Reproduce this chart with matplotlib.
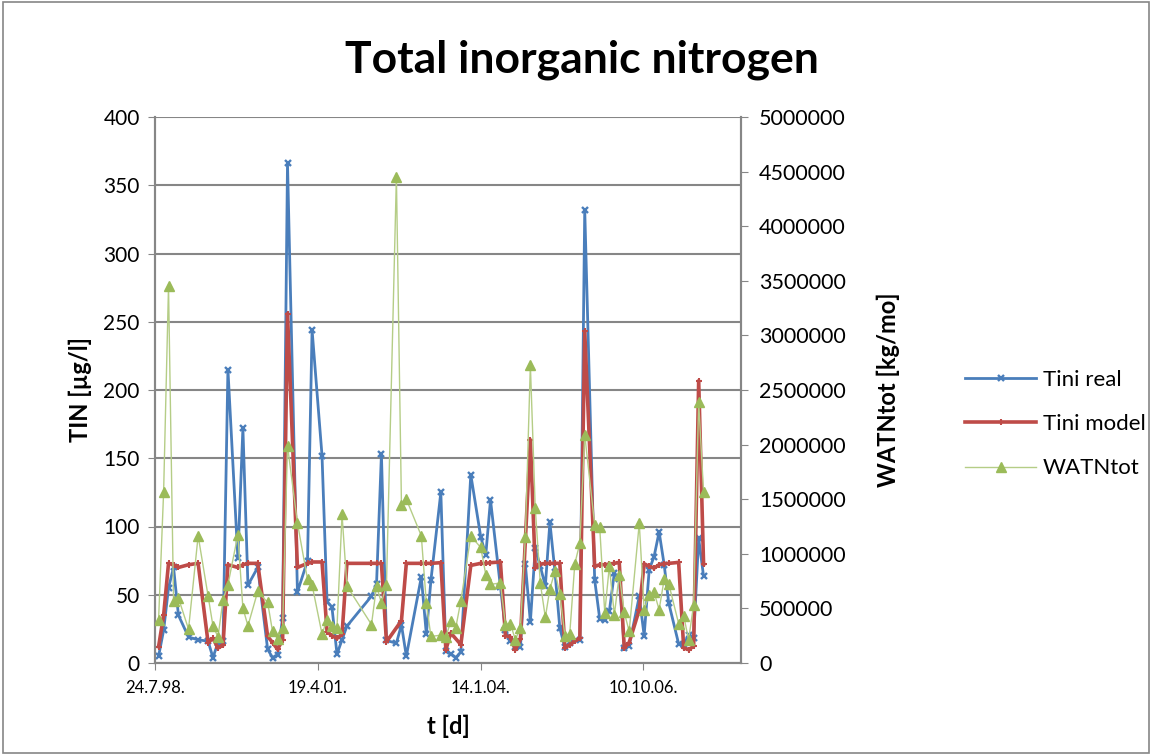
import numpy as np
import pandas as pd
import matplotlib
matplotlib.use("Agg")
import matplotlib.pyplot as plt
from matplotlib.lines import Line2D
from matplotlib.patches import Rectangle
from matplotlib.ticker import FuncFormatter

plt.rcParams['font.family'] = ['Lato', 'DejaVu Sans']

# monthly samples (mid-month), NaN = no value for that series
meses = [
    "1998-08", "1998-09", "1998-10", "1998-11", "1998-12", "1999-02", "1999-04",
    "1999-06", "1999-07", "1999-08", "1999-09", "1999-10", "1999-12", "2000-01",
    "2000-02", "2000-04", "2000-06", "2000-07", "2000-08", "2000-09", "2000-10",
    "2000-12", "2001-02", "2001-03", "2001-05", "2001-06", "2001-07", "2001-08",
    "2001-09", "2001-10", "2002-03", "2002-04", "2002-05", "2002-06", "2002-08",
    "2002-09", "2002-10", "2003-01", "2003-02", "2003-03", "2003-05", "2003-06",
    "2003-07", "2003-08", "2003-09", "2003-11", "2004-01", "2004-02", "2004-03",
    "2004-05", "2004-06", "2004-07", "2004-08", "2004-09", "2004-10", "2004-11",
    "2004-12", "2005-01", "2005-02", "2005-03", "2005-04", "2005-05", "2005-06",
    "2005-07", "2005-08", "2005-09", "2005-10", "2005-12", "2006-01", "2006-02",
    "2006-03", "2006-04", "2006-05", "2006-06", "2006-07", "2006-09", "2006-10",
    "2006-11", "2006-12", "2007-01", "2007-02", "2007-03", "2007-05", "2007-06",
    "2007-07", "2007-08", "2007-09", "2007-10",
]

tini_real = [
    5, 24, 55, 70, 35, 19, 17, 16, 4, 15, 16, 215, 77, 172, 57, 70, 10, 4, 6, 33,
    366, 52, 75, 244, 152, 45, 41, 6.5, 17, 27, 49, 58, 153, 16.5, 14.5, 28, 5,
    63, 21, 60.5, 125, 8.5, 6.5, 4, 8, 138, 92.5, 79, 119.5, 56, 24, 16, 12, 11.5,
    72.7, 30, 84, 70.7, 56.6, 103, 67, 25.6, 11.5, 15, np.nan, 17, 332, 61, 32.4,
    31.7, 37.8, 66, 61.5, 11, 12.7, 48.8, 20, 68.3, 78, 96, 72, 44, 14, 13.4,
    20.7, 18.3, 91.5, 63.5,
]

tini_model = [
    12, 35, 73, 72, 70, 72, 73, 15, 18, 11, 13, 72, 70, 72, 73, 73, 19.5, 15, 10,
    17, 256, 70, 73, 74, 74, 23, 20, 18, 21, 73, 73, 73, 73, 15.5, np.nan, 31, 73,
    73, 73, 73, 73.5, 9.7, 22, np.nan, 13.5, 71.5, 73, 73, 73.5, 74, 20, 19, 9.7,
    17.3, np.nan, 163.5, 69.5, 72.4, 73, 73, 73, 73, 11, 13.4, 15.9, 18.3, 243,
    70.7, 72, 72, 72.5, 73, 73.7, 11, 15, 39, 72.7, 70.7, 69.5, 72, 72.7, 73,
    73.7, 11, 9.8, 12.2, 206.8, 72.5,
]

watntot = [
    395000, 1570000, 3450000, 565000, 595000, 310000, 1165000, 615000, 340000,
    238000, 580000, 716000, 1174000, 503000, 341000, 655000, 555000, 290000,
    220000, 320000, 1990000, 1282000, 765000, 715000, 265000, 395000, 336000,
    325000, 1360000, 705000, 352000, 705000, 550000, 715000, 4455000, 1450000,
    1500000, 1165000, 550000, 243000, 255000, 235000, 385000, 325000, 570000,
    1163000, 1058000, 810000, 720000, 733000, 350000, 360000, 213000, 324000,
    1150000, 2730000, 1418000, 732000, 418000, 680000, 838000, 634000, 250000,
    268000, 909000, 1098000, 2090000, 1265000, 1244000, 457000, 884000, 442000,
    808000, 463000, 290000, 1280000, 488000, 625000, 649000, 488000, 768000,
    726000, 360000, 433000, 213000, 534000, 2388000, 1565000,
]

datas = pd.to_datetime([m + "-15" for m in meses])
real = np.array(tini_real, dtype=float)
model = np.array(tini_model, dtype=float)
watn = np.array(watntot, dtype=float)

azul = "#4A7EBB"
vermelho = "#BE4B48"
verde = "#9BBB59"
cinza = "#868686"

fig = plt.figure(figsize=(11.52, 7.55), dpi=100)
ax = fig.add_axes([155 / 1152, 1 - 663 / 755, (741 - 155) / 1152, (663 - 117) / 755])
ax2 = ax.twinx()

m = ~np.isnan(real)
ax.plot(datas[m], real[m], color=azul, lw=2, marker="x", ms=5, mew=1.7, zorder=3)
m = ~np.isnan(model)
ax.plot(datas[m], model[m], color=vermelho, lw=2.6, marker="+", ms=4, mew=1.5, zorder=4)
m = ~np.isnan(watn)
ax2.plot(datas[m], watn[m], color="#B5CD86", lw=1.0, marker="^", ms=7,
         mfc=verde, mec=verde, zorder=3)

# eixo de datas no estilo Excel: serial 36000 = 24.7.1998, passo 1000 dias
inicio = pd.Timestamp("1998-07-24")
ticks = [inicio + pd.Timedelta(days=1000 * k) for k in range(4)]
ax.set_xlim(inicio, inicio + pd.Timedelta(days=3600))
ax.set_xticks(ticks)
ax.set_xticklabels([f"{t.day}.{t.month}.{t.strftime('%y')}." for t in ticks], fontsize=12)

ax.set_ylim(0, 400)
ax.set_yticks(range(0, 401, 50))
ax2.set_ylim(0, 5000000)
ax2.set_yticks(range(0, 5000001, 500000))
ax2.yaxis.set_major_formatter(FuncFormatter(lambda v, p: f"{int(v)}"))
ax.tick_params(axis="y", labelsize=15, length=5, color=cinza, pad=6)
ax2.tick_params(axis="y", labelsize=15.5, length=5, color=cinza, pad=8)
ax.tick_params(axis="x", length=5, color=cinza, pad=7)

ax.grid(axis="y", color=cinza, lw=1.5)
ax.set_axisbelow(True)
for a in (ax, ax2):
    a.spines["top"].set_visible(False)
    for s in ("left", "bottom", "right"):
        a.spines[s].set_color(cinza)
        a.spines[s].set_linewidth(1.5)

ax.set_ylabel("TIN [µg/l]", fontsize=17, fontweight="bold", labelpad=8)
ax2.set_ylabel("WATNtot [kg/mo]", fontsize=17, fontweight="bold", labelpad=22)
ax.set_xlabel("t [d]", fontsize=17, fontweight="bold", labelpad=14)

fig.text(582 / 1152, 1 - 60 / 755, "Total inorganic nitrogen", fontsize=32,
         fontweight="bold", ha="center", va="center")

handles = [
    Line2D([], [], color=azul, lw=2, marker="x", ms=5, mew=1.7),
    Line2D([], [], color=vermelho, lw=2.6, marker="+", ms=4, mew=1.5),
    Line2D([], [], color="#B5CD86", lw=1.0, marker="^", ms=7, mfc=verde, mec=verde),
]
fig.legend(handles, ["Tini real", "Tini model", "WATNtot"], loc="center left",
           bbox_to_anchor=(945 / 1152, 1 - 424 / 755), frameon=False, fontsize=16,
           numpoints=1, handlelength=3.2, labelspacing=1.1, handletextpad=0.3)

# moldura da área do gráfico
fig.patches.append(Rectangle((0.003, 0.003), 0.994, 0.994, transform=fig.transFigure,
                             fill=False, edgecolor=cinza, lw=1.2))

fig.savefig("out.png", dpi=100)
